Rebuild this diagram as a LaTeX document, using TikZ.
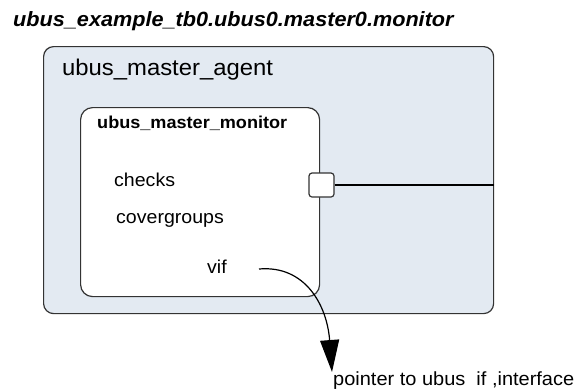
\documentclass[tikz,border=0pt]{standalone}
\usepackage{fontspec}
\setmainfont{Liberation Sans}[FakeStretch=1.05]
\usetikzlibrary{arrows.meta}
\definecolor{agentfill}{HTML}{E3EAF2}
\definecolor{boxline}{HTML}{333333}
\tikzset{
  agentbox/.style={draw=boxline, line width=1.2bp, fill=agentfill, rounded corners=10bp, inner sep=0pt, anchor=north west},
  monbox/.style={draw=boxline, line width=1.2bp, fill=white, rounded corners=12bp, inner sep=0pt, anchor=north west},
  portbox/.style={draw=boxline, line width=1.2bp, fill=white, rounded corners=3bp, inner sep=0pt, minimum width=25bp, minimum height=24bp},
  txt/.style={anchor=base west, inner sep=0pt, text=black},
  wire/.style={line width=2bp, black},
  ptrarrow/.style={line width=1.2bp, black, -{Triangle[length=32bp,width=19bp]}}
}
\begin{document}
\begin{tikzpicture}[x=1bp,y=-1bp]
\useasboundingbox (0,0) rectangle (576,389);
\node[txt, font=\fontsize{20.7}{23}\selectfont\bfseries\itshape] (title) at (13,26) {ubus\_example\_tb0.ubus0.master0.monitor};
\node[agentbox, minimum width=450bp, minimum height=267bp] (agent) at (43,46) {};
\node[txt, font=\fontsize{22.8}{25}\selectfont] (agentlbl) at (62,75) {ubus\_master\_agent};
\node[monbox, minimum width=239bp, minimum height=189bp] (mon) at (80,107) {};
\node[txt, font=\fontsize{17.3}{20}\selectfont\bfseries] (monlbl) at (97,128) {ubus\_master\_monitor};
\node[txt, font=\fontsize{18.7}{21}\selectfont] (checks) at (114,186) {checks};
\node[txt, font=\fontsize{18.7}{21}\selectfont] (cover) at (116,223) {covergroups};
\node[txt, font=\fontsize{18.7}{21}\selectfont] (vif) at (207,273) {vif};
\node[portbox] (port) at (321.5,185) {};
\coordinate (wireend) at (agent.east |- port.east);
\draw[wire] (port.east) -- (wireend);
\coordinate (vifptr) at (259,269);
\coordinate (ptrtip) at (332,372);
\node[txt, font=\fontsize{19.1}{21}\selectfont] (ptr) at (333,385) {pointer to ubus\ \ if ,interface};
\draw[ptrarrow] (vifptr) .. controls (305,265) and (327,305) .. (ptrtip);
\end{tikzpicture}
\end{document}
